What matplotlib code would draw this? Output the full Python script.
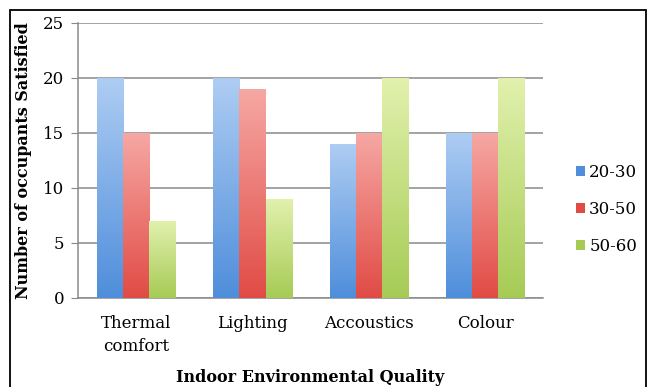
import matplotlib.pyplot as plt
import numpy as np
from matplotlib.colors import LinearSegmentedColormap
from matplotlib.patches import Rectangle

categories = ["Thermal\ncomfort", "Lighting", "Accoustics", "Colour"]
groups = ["20-30", "30-50", "50-60"]
v_20_30 = [20, 20, 14, 15]
v_30_50 = [15, 19, 15, 15]
v_50_60 = [7, 9, 20, 20]

# top (light) -> bottom (dark) colours for the gradient fill
grad = [("#aecdf3", "#4f8edb"), ("#f6a8a4", "#e14b45"), ("#e2f1ae", "#a6cb55")]

plt.rcParams['font.family'] = ['DejaVu Serif']

fig = plt.figure(figsize=(6.56, 3.87), dpi=100)
ax = fig.add_axes([0.119, 0.23, 0.709, 0.7106])

x = np.arange(len(categories))
w = 0.225
series = [v_20_30, v_30_50, v_50_60]
gy = np.linspace(0, 1, 256).reshape(-1, 1)
for i, (vals, (top, bot)) in enumerate(zip(series, grad)):
    bars = ax.bar(x + (i - 1) * w, vals, w, color=bot, label=groups[i], zorder=2)
    cmap = LinearSegmentedColormap.from_list("g%d" % i, [bot, top])
    for b in bars:
        bx, by = b.get_x(), b.get_y()
        im = ax.imshow(gy, cmap=cmap, origin="lower", aspect="auto",
                       extent=[bx, bx + b.get_width(), by, by + b.get_height()],
                       zorder=3)
        im.set_clip_path(b)

ax.set_xlim(-0.5, 3.5)
ax.set_ylim(0, 25)
ax.set_yticks(range(0, 26, 5))
ax.set_xticks(x)
ax.set_xticklabels(categories, fontsize=12, linespacing=1.5)
ax.tick_params(axis='y', labelsize=12, length=5, color="#888888", pad=5)
ax.tick_params(axis='x', length=0, pad=12)
ax.yaxis.grid(True, color="#8a8a8a", linewidth=1.1, zorder=0)
ax.set_axisbelow(True)
for s in ["top", "right"]:
    ax.spines[s].set_visible(False)
ax.spines["left"].set_color("#8a8a8a")
ax.spines["bottom"].set_color("#8a8a8a")
ax.spines["left"].set_linewidth(1.1)
ax.spines["bottom"].set_linewidth(1.1)

ax.set_ylabel("Number of occupants Satisfied", fontsize=11.5, fontweight="bold", labelpad=8)
ax.set_xlabel("Indoor Environmental Quality", fontsize=11.5, fontweight="bold")
ax.xaxis.set_label_coords(0.5, -0.29)
ax.xaxis.label.set_verticalalignment("center")

ax.legend(loc="center left", bbox_to_anchor=(1.038, 0.322), frameon=False,
          fontsize=12, handlelength=0.55, handleheight=0.55, handletextpad=0.25,
          labelspacing=1.22)

fig.patches.append(Rectangle((0.016, -0.02), 0.968, 0.994, transform=fig.transFigure,
                             fill=False, edgecolor="black", linewidth=1.3))

fig.savefig("out.png", dpi=100)
